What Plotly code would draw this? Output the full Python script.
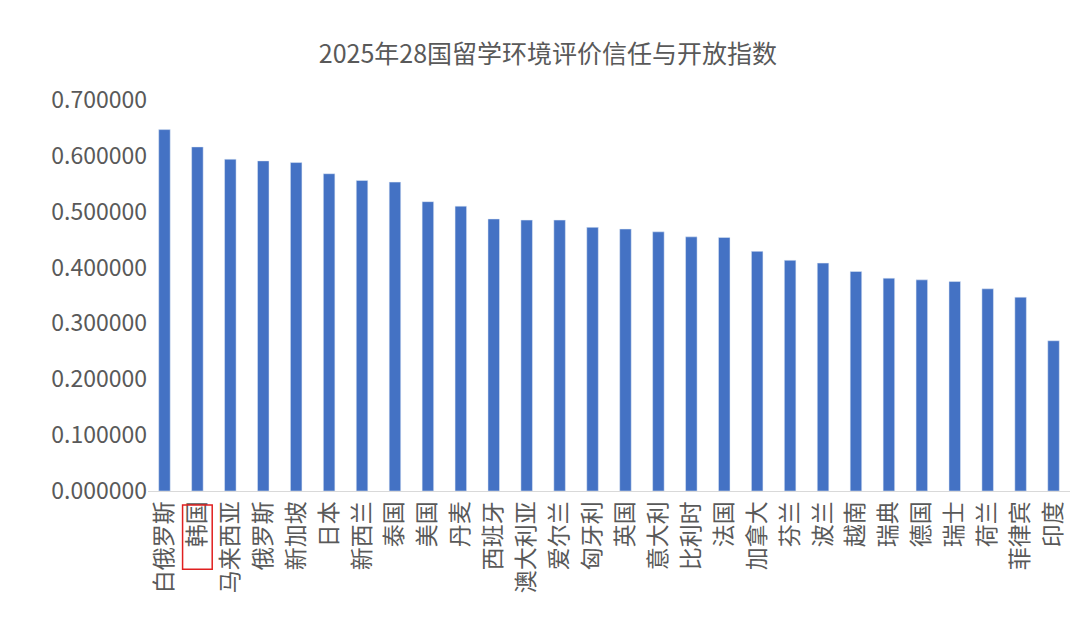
import plotly.graph_objects as go

countries = ["白俄罗斯", "韩国", "马来西亚", "俄罗斯", "新加坡", "日本", "新西兰", "泰国",
             "美国", "丹麦", "西班牙", "澳大利亚", "爱尔兰", "匈牙利", "英国", "意大利",
             "比利时", "法国", "加拿大", "芬兰", "波兰", "越南", "瑞典", "德国",
             "瑞士", "荷兰", "菲律宾", "印度"]
scores = [0.647, 0.616, 0.594, 0.591, 0.588, 0.568, 0.556, 0.553,
          0.518, 0.510, 0.487, 0.485, 0.485, 0.472, 0.469, 0.464,
          0.455, 0.454, 0.429, 0.413, 0.408, 0.393, 0.381, 0.378,
          0.375, 0.362, 0.347, 0.269]
y_ticks = [0, 0.1, 0.2, 0.3, 0.4, 0.5, 0.6, 0.7]

fig = go.Figure(go.Bar(x=countries, y=scores, marker_color="#4472C4", width=0.35))

# red highlight box around the 韩国 label
fig.add_shape(type="rect", xref="x", yref="paper", x0=0.55, x1=1.45, y0=-0.036, y1=-0.2,
              line=dict(color="#E02020", width=1.5))

fig.update_layout(
    width=1080, height=624,
    paper_bgcolor="white", plot_bgcolor="white",
    margin=dict(l=140, r=18, t=92, b=141),
    font=dict(family="Noto Sans CJK SC", color="#595959"),
    title=dict(text="2025年28国留学环境评价信任与开放指数", x=0.5, y=0.94,
               font=dict(size=25, color="#595959")),
    showlegend=False,
    bargap=0.6,
)
fig.update_xaxes(tickangle=-90, tickfont=dict(size=23, color="#595959"),
                 showline=True, linecolor="#D9D9D9", ticks="")
fig.update_yaxes(range=[0, 0.7], tickvals=y_ticks, tickformat=".6f",
                 tickfont=dict(size=23, color="#595959"), showgrid=False,
                 zeroline=False, ticksuffix=" ")

fig.write_html("out.html")
